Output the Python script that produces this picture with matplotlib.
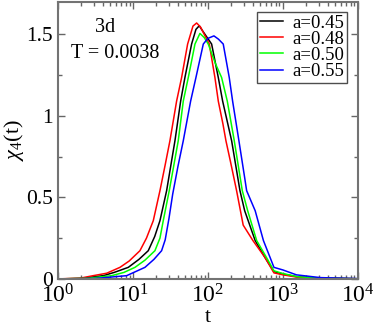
import numpy as np
import matplotlib
matplotlib.use('Agg')
from matplotlib import pyplot as plt
from matplotlib.ticker import LogLocator, MultipleLocator, NullFormatter

plt.rcParams['font.family'] = 'Liberation Serif'
plt.rcParams['mathtext.fontset'] = 'custom'
plt.rcParams['mathtext.rm'] = 'Liberation Serif'
plt.rcParams['mathtext.it'] = 'Liberation Serif:italic'

# log10(t) and chi_4 for each curve
logt_045 = [0.0, 0.3, 0.604, 0.75, 0.938, 1.08, 1.204, 1.29, 1.36, 1.449, 1.56, 1.636, 1.693, 1.782, 1.84, 1.884, 1.93,
            2.049, 2.138, 2.196, 2.316, 2.427, 2.49, 2.63, 2.76, 2.88, 3.0, 3.2, 3.5, 4.0]
chi_045 = [0.0, 0.003, 0.02, 0.04, 0.071, 0.12, 0.173, 0.26, 0.357, 0.541, 0.847, 1.09, 1.235, 1.44, 1.53, 1.552, 1.52,
           1.44, 1.235, 1.09, 0.847, 0.541, 0.418, 0.235, 0.132, 0.045, 0.03, 0.012, 0.005, 0.001]

logt_048 = [0.0, 0.3, 0.47, 0.65, 0.827, 0.95, 1.093, 1.18, 1.271, 1.36, 1.43, 1.493, 1.582, 1.649, 1.729, 1.8, 1.849,
            1.9, 1.95, 2.018, 2.093, 2.138, 2.2, 2.24, 2.3, 2.382, 2.47, 2.6, 2.76, 2.88, 3.0, 3.2, 3.5, 4.0]
chi_048 = [0.0, 0.005, 0.02, 0.035, 0.071, 0.11, 0.173, 0.25, 0.357, 0.541, 0.7, 0.847, 1.09, 1.235, 1.44, 1.55, 1.569,
           1.545, 1.5, 1.44, 1.235, 1.09, 0.95, 0.847, 0.72, 0.541, 0.33, 0.235, 0.132, 0.037, 0.025, 0.01, 0.004, 0.001]

logt_050 = [0.0, 0.4, 0.716, 0.88, 1.027, 1.16, 1.293, 1.36, 1.404, 1.484, 1.604, 1.671, 1.738, 1.827, 1.893, 1.95,
            2.004, 2.1, 2.182, 2.258, 2.351, 2.458, 2.53, 2.65, 2.78, 2.88, 3.0, 3.2, 3.5, 4.0]
chi_050 = [0.0, 0.004, 0.02, 0.04, 0.071, 0.115, 0.173, 0.25, 0.357, 0.541, 0.847, 1.09, 1.235, 1.44, 1.505, 1.48,
           1.44, 1.32, 1.235, 1.09, 0.847, 0.541, 0.418, 0.235, 0.132, 0.05, 0.033, 0.013, 0.005, 0.001]

logt_055 = [0.0, 0.5, 0.916, 1.16, 1.28, 1.382, 1.43, 1.48, 1.53, 1.6, 1.671, 1.769, 1.84, 1.938, 2.0, 2.08, 2.14, 2.204,
            2.284, 2.329, 2.413, 2.49, 2.516, 2.63, 2.74, 2.83, 2.88, 3.0, 3.18, 3.5, 4.0]
chi_055 = [0.0, 0.003, 0.02, 0.071, 0.12, 0.173, 0.24, 0.37, 0.52, 0.69, 0.847, 1.09, 1.235, 1.44, 1.475, 1.49, 1.47, 1.44,
           1.235, 1.09, 0.847, 0.62, 0.541, 0.418, 0.235, 0.13, 0.071, 0.055, 0.025, 0.008, 0.002]

labels = ['a=0.45', 'a=0.48', 'a=0.50', 'a=0.55']
colors = ['black', 'red', '#00ff00', 'blue']
xs = [logt_045, logt_048, logt_050, logt_055]
ys = [chi_045, chi_048, chi_050, chi_055]

fig = plt.figure(figsize=(3.74, 3.27), dpi=100)
ax = fig.add_axes([0.155, 0.147, 0.802, 0.848])

for lx, y, c, lab in zip(xs, ys, colors, labels):
    ax.plot(10 ** np.array(lx), y, color=c, lw=1.1, label=lab)

ax.set_xscale('log')
ax.set_xlim(1, 1e4)
ax.set_ylim(0, 1.7)
ax.xaxis.set_major_locator(LogLocator(base=10, numticks=10))
ax.xaxis.set_minor_locator(LogLocator(base=10, subs=np.arange(2, 10), numticks=10))
ax.xaxis.set_minor_formatter(NullFormatter())
ax.yaxis.set_minor_locator(MultipleLocator(0.25))
ax.set_yticks([0, 0.5, 1, 1.5])
ax.set_yticklabels(['0', '0.5', '1', '1.5'])

ax.tick_params(which='both', direction='in', top=True, right=True, colors='black')
ax.tick_params(which='major', length=5, width=1, color='0.4')
ax.tick_params(which='minor', length=3, width=1, color='0.4')
ax.tick_params(axis='x', pad=4, labelsize=17)
ax.tick_params(axis='y', labelsize=15.5)
for s in ax.spines.values():
    s.set_color('0.45')
    s.set_linewidth(1.5)

ax.set_xlabel('t', fontsize=16, labelpad=0)
ax.set_ylabel(r'$\chi_4$(t)', fontsize=16, labelpad=0)

ax.text(0.157, 0.906, '3d', transform=ax.transAxes, ha='center', va='center', fontsize=14.5)
ax.text(0.19, 0.814, 'T = 0.0038', transform=ax.transAxes, ha='center', va='center', fontsize=14.5)

leg = ax.legend(loc='upper right', bbox_to_anchor=(0.963, 0.964), borderaxespad=0,
                fancybox=False, fontsize=13.5, handlelength=1.2, handletextpad=0.5,
                labelspacing=-0.05, borderpad=0.15, framealpha=1)
leg.get_frame().set_edgecolor('0.3')
leg.get_frame().set_linewidth(1)

fig.savefig('out.png', dpi=100)
